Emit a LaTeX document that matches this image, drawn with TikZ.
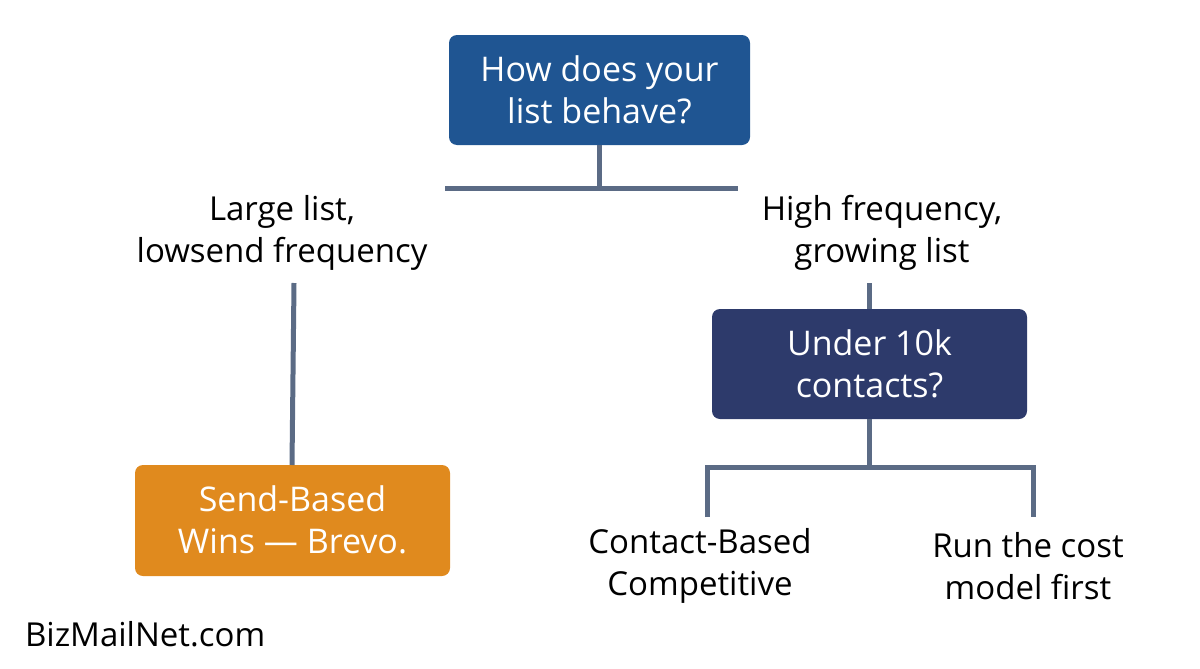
\documentclass[tikz,border=0pt]{standalone}
\usepackage{fontspec}
\setmainfont{Open Sans}
\definecolor{topblue}{HTML}{1F5592}
\definecolor{navy}{HTML}{2D3A6B}
\definecolor{orng}{HTML}{E08A1E}
\definecolor{ln}{HTML}{5B6B85}
\begin{document}
\begin{tikzpicture}[x=0.5pt,y=-0.5pt,
 box/.style={rounded corners=3pt,text=white,align=center,font=\fontsize{17}{21}\selectfont},
 lbl/.style={align=center,font=\fontsize{16.5}{21}\selectfont,text=black},
 conn/.style={draw=ln,line width=2.5pt}]
\useasboundingbox (0,0) rectangle (1200,669);
\fill[topblue,rounded corners=4pt] (449,35) rectangle (750,145);
\node[box] (top) at (599.5,90) {How does your\\list behave?};
\fill[orng,rounded corners=4pt] (135,465) rectangle (450,576);
\node[box] (send) at (292.5,520) {Send-Based\\Wins — Brevo.};
\fill[navy,rounded corners=4pt] (712,309) rectangle (1027,419);
\node[box] (under) at (869.5,364) {Under 10k\\contacts?};
\node[lbl] (ll) at (282,233) {Large list,\\lowsend frequency};
\node[lbl] (hf) at (882,233) {High frequency,\\growing list};
\node[lbl] (cb) at (700,566) {Contact-Based\\Competitive};
\node[lbl] (rc) at (1028,566) {Run the cost\\model first};
\node[anchor=west,font=\fontsize{16.5}{20}\selectfont] (brand) at (18,634) {BizMailNet.com};
\coordinate (a1) at (599,145); \coordinate (a2) at (599,188);
\coordinate (hl) at (445,188); \coordinate (hr) at (738,188);
\draw[conn] (a1) -- (a2);
\draw[conn] (hl) -- (hr);
\draw[conn] (294,283) -- (292,465);
\draw[conn] (869,283) -- (869,309);
\draw[conn] (869,419) -- (869,467);
\draw[conn] (707,517) -- (707,467) -- (1033,467) -- (1033,517);
\end{tikzpicture}
\end{document}
